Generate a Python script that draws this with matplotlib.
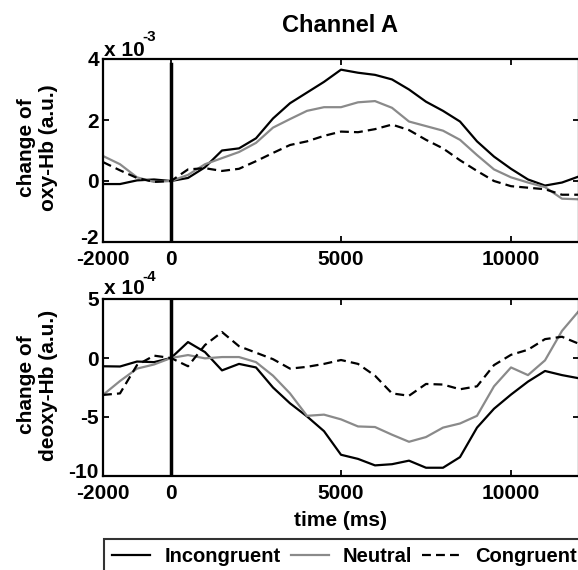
import numpy as np
import matplotlib
matplotlib.use("Agg")
import matplotlib.pyplot as plt
import matplotlib.transforms as mtransforms

plt.rcParams['font.family'] = ['Liberation Sans', 'DejaVu Sans']
plt.rcParams['font.weight'] = 'bold'

# time axis (ms)
time_ms = np.arange(-2000, 12001, 500)

# oxy-Hb change (x 10^-3)
oxy_incongruent = [-0.1, -0.1, 0.02, 0.05, 0.0, 0.1, 0.45, 1.0, 1.07, 1.4, 2.05, 2.55, 2.9, 3.25,
                   3.65, 3.55, 3.48, 3.33, 3.0, 2.6, 2.3, 1.95, 1.3, 0.8, 0.4, 0.05, -0.15, -0.05, 0.15]
oxy_neutral = [0.82, 0.55, 0.12, -0.03, 0.0, 0.2, 0.55, 0.75, 0.95, 1.25, 1.75, 2.03, 2.3, 2.42,
               2.42, 2.58, 2.62, 2.4, 1.95, 1.8, 1.65, 1.35, 0.85, 0.38, 0.12, -0.05, -0.2, -0.58, -0.6]
oxy_congruent = [0.62, 0.35, 0.1, -0.03, 0.0, 0.38, 0.42, 0.33, 0.4, 0.65, 0.92, 1.18, 1.3, 1.48,
                 1.62, 1.6, 1.7, 1.85, 1.67, 1.35, 1.07, 0.68, 0.33, 0.0, -0.17, -0.22, -0.27, -0.45, -0.45]

# deoxy-Hb change (x 10^-4)
deoxy_incongruent = [-0.7, -0.72, -0.3, -0.35, 0.0, 1.35, 0.5, -1.05, -0.5, -0.8, -2.5, -3.84, -4.95, -6.2,
                     -8.2, -8.55, -9.1, -9.0, -8.7, -9.3, -9.3, -8.4, -5.9, -4.3, -3.1, -2.0, -1.1, -1.45, -1.72]
deoxy_neutral = [-3.13, -1.95, -0.9, -0.55, 0.0, 0.25, -0.03, 0.08, 0.08, -0.35, -1.5, -3.0, -4.9, -4.8,
                 -5.2, -5.8, -5.85, -6.5, -7.1, -6.7, -5.9, -5.55, -4.9, -2.4, -0.8, -1.45, -0.2, 2.3, 4.0]
deoxy_congruent = [-3.13, -3.0, -0.6, 0.2, 0.0, -0.7, 1.1, 2.2, 1.0, 0.45, -0.1, -0.9, -0.75, -0.5,
                   -0.17, -0.5, -1.5, -3.0, -3.2, -2.2, -2.25, -2.65, -2.4, -0.6, 0.27, 0.7, 1.6, 1.8, 1.2]

condition_names = ['Incongruent', 'Neutral', 'Congruent']
xticks = [-2000, 0, 5000, 10000]
oxy_yticks = [-2, 0, 2, 4]
deoxy_yticks = [-10, -5, 0, 5]
onset_ms = 0

W, H = 578, 570
fig = plt.figure(figsize=(W / 100, H / 100), dpi=100)

def px_axes(left, top, right, bottom):
    return fig.add_axes([left / W, 1 - bottom / H, (right - left) / W, (bottom - top) / H])

ax1 = px_axes(103, 59, 579, 242)
ax2 = px_axes(103, 299, 579, 476)

styles = [dict(color='black', lw=1.6, ls='-'),
          dict(color='#8a8a8a', lw=1.6, ls='-'),
          dict(color='black', lw=1.6, ls=(0, (4, 2.3)))]

lines = []
for ax, series in [(ax1, [oxy_incongruent, oxy_neutral, oxy_congruent]),
                   (ax2, [deoxy_incongruent, deoxy_neutral, deoxy_congruent])]:
    for name, vals, st in zip(condition_names, series, styles):
        ln, = ax.plot(time_ms, vals, label=name, **st)
        if ax is ax1:
            lines.append(ln)
    ax.set_xlim(-2000, 12000)
    ax.set_xticks(xticks)
    ax.set_xticklabels([str(t) for t in xticks])
    ax.tick_params(direction='in', length=4, width=1.3, top=True, right=True,
                   labelsize=15)
    ax.tick_params(axis='x', pad=6)
    ax.tick_params(axis='y', pad=3)
    for sp in ax.spines.values():
        sp.set_linewidth(1.6)

ax1.set_ylim(-2, 4)
ax1.set_yticks(oxy_yticks)
ax1.set_yticklabels([str(v) for v in oxy_yticks])
ax2.set_ylim(-10, 5)
ax2.set_yticks(deoxy_yticks)
ax2.set_yticklabels([str(v) for v in deoxy_yticks])

ax1.axvline(onset_ms, ymin=0, ymax=0.975, color='black', lw=2.5)
ax2.axvline(onset_ms, ymin=0, ymax=1, color='black', lw=2.5)

for ax in (ax1, ax2):
    labs = ax.get_yticklabels()
    for lab in ax.get_xticklabels() + labs:
        lab.set_fontweight('bold')
    # lowest y tick label sits a little higher, as in the original
    shift = mtransforms.ScaledTranslation(0, 5 / 100, fig.dpi_scale_trans)
    labs[0].set_transform(labs[0].get_transform() + shift)

# exponent labels
fig.text(104 / W, 1 - 50 / H, 'x 10', fontsize=15, fontweight='bold', ha='left', va='center')
fig.text(142 / W, 1 - 37 / H, '-3', fontsize=11, fontweight='bold', ha='left', va='center')
fig.text(104 / W, 1 - 289 / H, 'x 10', fontsize=15, fontweight='bold', ha='left', va='center')
fig.text(142 / W, 1 - 277 / H, '-4', fontsize=11, fontweight='bold', ha='left', va='center')

fig.text(340 / W, 1 - 25 / H, 'Channel A', fontsize=17, fontweight='bold', ha='center', va='center')
fig.text(37 / W, 1 - 148 / H, 'change of\noxy-Hb (a.u.)', fontsize=15, fontweight='bold',
         rotation=90, ha='center', va='center', multialignment='center')
fig.text(37 / W, 1 - 385 / H, 'change of\ndeoxy-Hb (a.u.)', fontsize=15, fontweight='bold',
         rotation=90, ha='center', va='center', multialignment='center')
fig.text(341 / W, 1 - 521 / H, 'time (ms)', fontsize=15, fontweight='bold', ha='center', va='center')

leg = fig.legend(lines, condition_names, loc='upper left', bbox_to_anchor=(104 / W, 1 - 539 / H),
                 ncol=3, fontsize=14.5, frameon=True, fancybox=False, handlelength=1.9,
                 handletextpad=0.7, columnspacing=0.5, borderpad=0.4, borderaxespad=0)
leg.get_frame().set_edgecolor('black')
leg.get_frame().set_linewidth(1.5)
for t in leg.get_texts():
    t.set_fontweight('bold')

fig.savefig('out.png', dpi=100)
